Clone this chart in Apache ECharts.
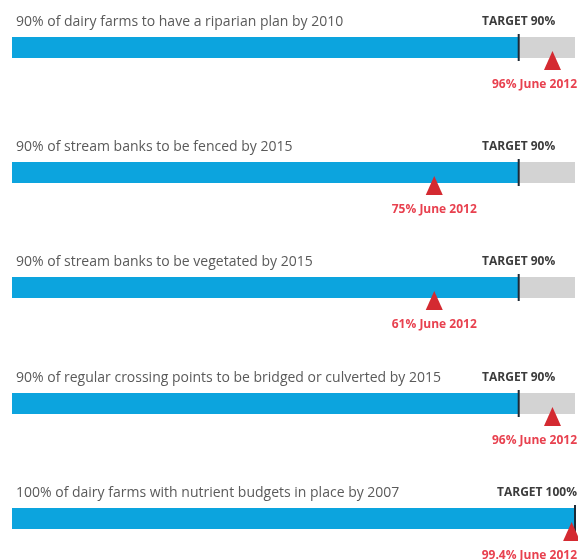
<!DOCTYPE html>
<html>
<head>
<meta charset="utf-8">
<script src="https://cdn.jsdelivr.net/npm/echarts@6/dist/echarts.min.js"></script>
<style>
  html, body { margin: 0; padding: 0; background: #fff; }
  #main { width: 578px; height: 560px; }
</style>
</head>
<body>
<div id="main"></div>
<script>
// goals, targets and where things stood in June 2012
var goals = [
  "90% of dairy farms to have a riparian plan by 2010",
  "90% of stream banks to be fenced by 2015",
  "90% of stream banks to be vegetated by 2015",
  "90% of regular crossing points to be bridged or culverted by 2015",
  "100% of dairy farms with nutrient budgets in place by 2007"
];
var targets = [90, 90, 90, 90, 100];
// marker positions as drawn in the picture
var actual = [96, 75, 75, 96, 99.4];
var actualLabels = ["96% June 2012", "75% June 2012", "61% June 2012", "96% June 2012", "99.4% June 2012"];

var chartDom = document.getElementById("main");
var myChart = echarts.init(chartDom);

var barTops = [37, 162, 277, 393, 508];
var font = "'Open Sans', sans-serif";

var grids = [], xAxes = [], yAxes = [], titles = [], series = [];

goals.forEach(function (goal, i) {
  grids.push({ left: 12, right: 3, top: barTops[i], height: 21 });
  xAxes.push({ gridIndex: i, type: "value", min: 0, max: 100, show: false });
  yAxes.push({ gridIndex: i, type: "category", data: [goal], show: false });
  titles.push({
    text: goal,
    left: 11,
    top: barTops[i] - 27,
    textStyle: { fontFamily: font, fontSize: 14, fontWeight: "normal", color: "#5a5a5a" }
  });

  series.push({
    type: "bar",
    xAxisIndex: i,
    yAxisIndex: i,
    barWidth: 21,
    data: [targets[i]],
    itemStyle: { color: "#0ca4de" },
    showBackground: true,
    backgroundStyle: { color: "#d3d3d3" },
    silent: true
  });

  // target tick with its label above
  series.push({
    type: "scatter",
    xAxisIndex: i,
    yAxisIndex: i,
    symbol: "rect",
    symbolSize: [2, 27],
    data: [[targets[i], goal]],
    itemStyle: { color: "#1d2a36", opacity: 1 },
    label: {
      show: true,
      position: "top",
      formatter: "TARGET " + targets[i] + "%",
      fontFamily: font,
      fontSize: 12,
      fontWeight: "bold",
      color: "#3c3c3c"
    },
    labelLayout: placeLabel(-26),
    z: 5
  });

  // June 2012 marker
  series.push({
    type: "scatter",
    xAxisIndex: i,
    yAxisIndex: i,
    symbol: "triangle",
    symbolSize: [17, 19],
    symbolOffset: [0, 13],
    data: [[actual[i], goal]],
    itemStyle: { color: "#d42a31", opacity: 1 },
    label: {
      show: true,
      position: "bottom",
      formatter: actualLabels[i],
      fontFamily: font,
      fontSize: 12,
      fontWeight: "bold",
      color: "#e8414f"
    },
    labelLayout: placeLabel(37),
    z: 6
  });
});

// centre the label under/over its mark, keep it inside the right edge
function placeLabel(dy) {
  return function (params) {
    var r = params.labelRect;
    var cx = params.rect.x + params.rect.width / 2;
    if (cx + r.width / 2 > 577) {
      cx = 577 - r.width / 2;
    }
    var grid = grids[params.seriesIndex / 3 | 0];
    return { x: cx, y: grid.top + 10.5 + dy, align: "center", verticalAlign: "middle" };
  };
}

myChart.setOption({
  animation: false,
  title: titles,
  grid: grids,
  xAxis: xAxes,
  yAxis: yAxes,
  series: series
});
</script>
</body>
</html>
